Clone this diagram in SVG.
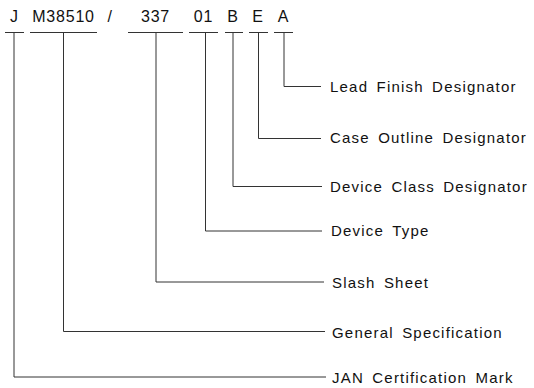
<svg xmlns="http://www.w3.org/2000/svg" width="534" height="388" viewBox="0 0 534 388">
<style>
.code{font-family:"Liberation Sans",Arial,sans-serif;font-size:16px;fill:#111;text-anchor:middle;letter-spacing:0.8px}
.lbl{font-family:"Liberation Sans",Arial,sans-serif;font-size:15px;fill:#111;letter-spacing:1.2px;word-spacing:3px}
.ln{fill:none;stroke:#333;stroke-width:1}
</style>
<rect width="534" height="388" fill="#fff"/>
<g id="code">
<g id="seg-J"><text class="code" x="14.5" y="21.5">J</text><line class="ln" x1="5" y1="32.5" x2="24" y2="32.5"/></g>
<g id="seg-M38510"><text class="code" x="63.5" y="21.5">M38510</text><line class="ln" x1="30" y1="32.5" x2="97" y2="32.5"/></g>
<g id="seg-slash"><text class="code" x="110" y="21.5">/</text></g>
<g id="seg-337"><text class="code" x="155.5" y="21.5">337</text><line class="ln" x1="128" y1="32.5" x2="183" y2="32.5"/></g>
<g id="seg-01"><text class="code" x="203.5" y="21.5">01</text><line class="ln" x1="189" y1="32.5" x2="218" y2="32.5"/></g>
<g id="seg-B"><text class="code" x="233" y="21.5">B</text><line class="ln" x1="225" y1="32.5" x2="243" y2="32.5"/></g>
<g id="seg-E"><text class="code" x="258" y="21.5">E</text><line class="ln" x1="249" y1="32.5" x2="268" y2="32.5"/></g>
<g id="seg-A"><text class="code" x="283.5" y="21.5">A</text><line class="ln" x1="274" y1="32.5" x2="293" y2="32.5"/></g>
</g>
<g id="connectors">
<polyline class="ln" points="284,32.5 284,86.5 321,86.5"/>
<polyline class="ln" points="258.5,32.5 258.5,138.5 321,138.5"/>
<polyline class="ln" points="233,32.5 233,186.5 322,186.5"/>
<polyline class="ln" points="205.5,32.5 205.5,231 322,231"/>
<polyline class="ln" points="156,32.5 156,282 324,282"/>
<polyline class="ln" points="63.5,32.5 63.5,331.5 325,331.5"/>
<polyline class="ln" points="14,32.5 14,377 326,377"/>
</g>
<g id="label-lead"><text class="lbl" x="330" y="92">Lead Finish Designator</text></g>
<g id="label-case"><text class="lbl" x="330" y="143">Case Outline Designator</text></g>
<g id="label-class"><text class="lbl" x="330" y="191.5">Device Class Designator</text></g>
<g id="label-type"><text class="lbl" x="331" y="236">Device Type</text></g>
<g id="label-slash"><text class="lbl" x="332" y="287.5">Slash Sheet</text></g>
<g id="label-general"><text class="lbl" x="332" y="337.5">General Specification</text></g>
<g id="label-jan"><text class="lbl" x="332" y="383">JAN Certification Mark</text></g>
</svg>
